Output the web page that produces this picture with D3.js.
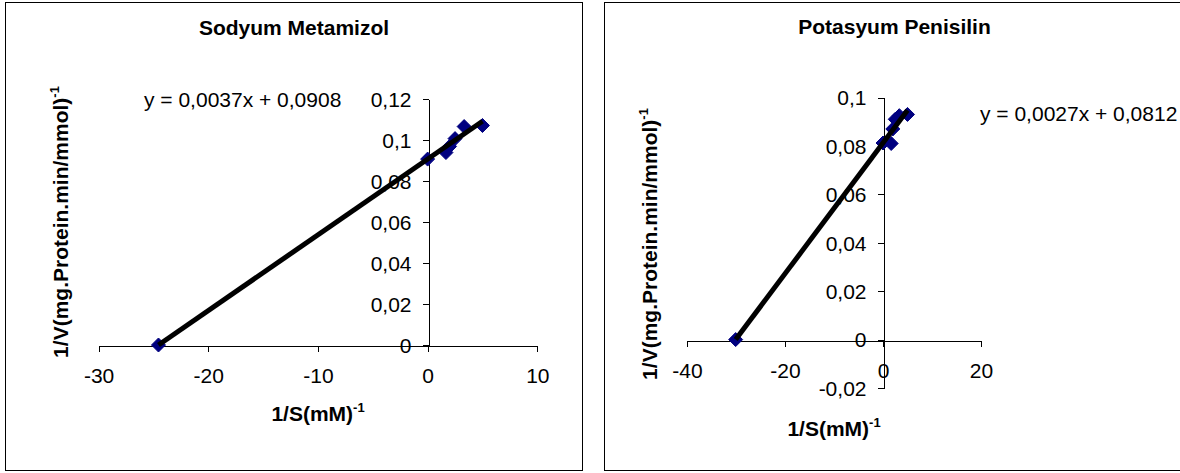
<!DOCTYPE html>
<html>
<head>
<meta charset="utf-8">
<script src="https://cdn.jsdelivr.net/npm/d3@7"></script>
<style>
  html, body { margin: 0; padding: 0; background: #fff; }
  svg { display: block; font-family: "Liberation Sans", Arial, sans-serif; }
</style>
</head>
<body>
<svg id="chart" width="1180" height="473"></svg>
<script>
// ---------- DATA ----------
const leftTitle = "Sodyum Metamizol";
const leftX = [-24.54, 0, 1.67, 2, 2.5, 3.33, 5];
const leftY = [0, 0.0908, 0.094, 0.097, 0.1008, 0.1067, 0.1072];
const leftTrend = [0.0037, 0.0908];            // slope, intercept
const leftEquation = "y = 0,0037x + 0,0908";
const leftXTicks = [-30, -20, -10, 0, 10];
const leftXTickLabels = ["-30", "-20", "-10", "0", "10"];
const leftYTicks = [0, 0.02, 0.04, 0.06, 0.08, 0.1, 0.12];
const leftYTickLabels = ["0", "0,02", "0,04", "0,06", "0,08", "0,1", "0,12"];

const rightTitle = "Potasyum Penisilin";
const rightX = [-30.07, 0, 1.67, 2, 2.5, 3.33, 5];
const rightY = [0, 0.0812, 0.081, 0.087, 0.091, 0.0925, 0.093];
const rightTrend = [0.0027, 0.0812];
const rightEquation = "y = 0,0027x + 0,0812";
const rightXTicks = [-40, -20, 0, 20];
const rightXTickLabels = ["-40", "-20", "0", "20"];
const rightYTicks = [-0.02, 0, 0.02, 0.04, 0.06, 0.08, 0.1];
const rightYTickLabels = ["-0,02", "0", "0,02", "0,04", "0,06", "0,08", "0,1"];

const xAxisTitle = "1/S(mM)";
const yAxisTitle = "1/V(mg.Protein.min/mmol)";
const superscript = "-1";

// ---------- LAYOUT ----------
const FONT = 21;
const svg = d3.select("#chart");

function drawChart(cfg) {
  const g = svg.append("g");
  // frame
  g.append("rect")
    .attr("x", cfg.frame[0] + 0.5).attr("y", cfg.frame[1] + 0.5)
    .attr("width", cfg.frame[2] - cfg.frame[0]).attr("height", cfg.frame[3] - cfg.frame[1])
    .attr("fill", "none").attr("stroke", "#000").attr("stroke-width", 1);

  const x = d3.scaleLinear().domain(cfg.xDomain).range(cfg.xRange);
  const y = d3.scaleLinear().domain(cfg.yDomain).range(cfg.yRange);

  // title
  g.append("text")
    .attr("x", cfg.titlePos[0]).attr("y", cfg.titlePos[1])
    .attr("text-anchor", "middle").attr("font-weight", "bold")
    .attr("font-size", FONT).text(cfg.title);

  // x axis at y = 0
  const xAxis = d3.axisBottom(x)
    .tickValues(cfg.xTicks)
    .tickFormat((d, i) => cfg.xTickLabels[i])
    .tickSize(6).tickSizeOuter(0).tickPadding(17);
  const gx = g.append("g")
    .attr("transform", `translate(0,${Math.round(y(0)) + 0.5})`)
    .call(xAxis);

  // y axis at x = 0
  const yAxis = d3.axisLeft(y)
    .tickValues(cfg.yTicks)
    .tickFormat((d, i) => cfg.yTickLabels[i])
    .tickSize(6).tickSizeOuter(0).tickPadding(11);
  const gy = g.append("g")
    .attr("transform", `translate(${Math.round(x(0)) + 0.5},0)`)
    .call(yAxis);

  [gx, gy].forEach(a => {
    a.selectAll("path, line").attr("stroke", "#000").attr("shape-rendering", "crispEdges");
    a.selectAll("text").attr("font-size", FONT).attr("fill", "#000")
      .attr("font-family", "Liberation Sans, Arial, sans-serif");
  });
  gy.selectAll("text").attr("dy", "0.35em");

  // x axis title
  const xt = g.append("text")
    .attr("x", cfg.xTitlePos[0]).attr("y", cfg.xTitlePos[1])
    .attr("text-anchor", "middle").attr("font-weight", "bold").attr("font-size", FONT);
  xt.append("tspan").text(xAxisTitle);
  xt.append("tspan").attr("font-size", 13).attr("dy", -9).text(superscript);

  // y axis title (rotated)
  const yt = g.append("text")
    .attr("transform", `translate(${cfg.yTitlePos[0]},${cfg.yTitlePos[1]}) rotate(-90)`)
    .attr("text-anchor", "middle").attr("font-weight", "bold").attr("font-size", FONT);
  yt.append("tspan").text(yAxisTitle);
  yt.append("tspan").attr("font-size", 13).attr("dy", -9).text(superscript);

  // equation
  g.append("text")
    .attr("x", cfg.eqPos[0]).attr("y", cfg.eqPos[1])
    .attr("font-size", FONT).text(cfg.equation);

  // data points (diamonds)
  const pts = cfg.xs.map((v, i) => [v, cfg.ys[i]]);
  const r = 7;
  g.append("g").selectAll("path").data(pts).join("path")
    .attr("transform", d => `translate(${x(d[0])},${y(d[1])})`)
    .attr("d", `M0,${-r}L${r},0L0,${r}L${-r},0Z`)
    .attr("fill", "#000080").attr("stroke", "#000080").attr("stroke-width", 1);

  // trendline
  const xMin = d3.min(cfg.xs), xMax = d3.max(cfg.xs);
  const [m, b] = cfg.trend;
  g.append("line")
    .attr("x1", x(xMin)).attr("y1", y(m * xMin + b))
    .attr("x2", x(xMax)).attr("y2", y(m * xMax + b))
    .attr("stroke", "#000").attr("stroke-width", 5).attr("stroke-linecap", "butt");
}

drawChart({
  frame: [5, 2, 582, 470],
  title: leftTitle, titlePos: [294, 35],
  xDomain: [-30, 10], xRange: [98.6, 537.3],
  yDomain: [0, 0.12], yRange: [345, 99.3],
  xTicks: leftXTicks, xTickLabels: leftXTickLabels,
  yTicks: leftYTicks, yTickLabels: leftYTickLabels,
  xTitlePos: [318, 421], yTitlePos: [68, 222],
  eqPos: [144, 106.5], equation: leftEquation,
  xs: leftX, ys: leftY, trend: leftTrend
});

drawChart({
  frame: [604, 2, 1190, 470],
  title: rightTitle, titlePos: [894.5, 34],
  xDomain: [-40, 20], xRange: [687, 981],
  yDomain: [-0.02, 0.1], yRange: [388, 97.5],
  xTicks: rightXTicks, xTickLabels: rightXTickLabels,
  yTicks: rightYTicks, yTickLabels: rightYTickLabels,
  xTitlePos: [834, 436], yTitlePos: [657, 244],
  eqPos: [980, 121], equation: rightEquation,
  xs: rightX, ys: rightY, trend: rightTrend
});
</script>
</body>
</html>
